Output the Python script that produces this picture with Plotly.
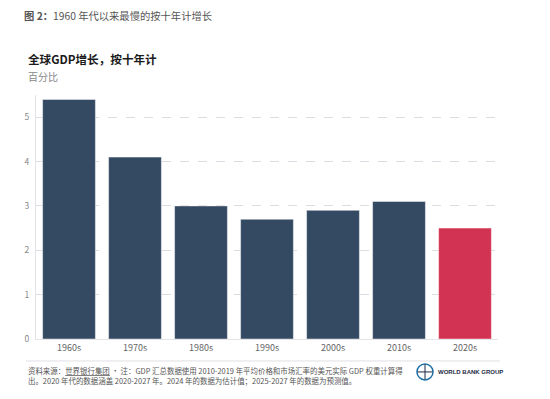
import plotly.graph_objects as go

decades = ["1960s", "1970s", "1980s", "1990s", "2000s", "2010s", "2020s"]
growth = [5.4, 4.1, 3.0, 2.7, 2.9, 3.1, 2.5]
bar_colors = ["#344A63"] * 6 + ["#D33352"]
y_ticks = [0, 1, 2, 3, 4, 5]

FONT = "Noto Sans CJK SC"

# the page body adds an 8px offset; figure coordinates below are page px minus 8
OFF = 8
W, H = 550 - 2 * OFF, 399 - 2 * OFF
ML, MR, MT, MB = 36 - OFF, W - (498 - OFF), 95 - OFF, H - (339.5 - OFF)
PW, PH = W - ML - MR, H - MT - MB

fig = go.Figure(go.Bar(
    x=decades, y=growth,
    marker=dict(color=bar_colors, line=dict(color="rgba(255,255,255,0.45)", width=1)),
    hoverinfo="x+y",
))

fig.update_layout(
    width=W, height=H, autosize=False,
    margin=dict(l=ML, r=MR, t=MT, b=MB, pad=0),
    paper_bgcolor="white", plot_bgcolor="white",
    bargap=0.2, showlegend=False,
    font=dict(family=FONT, color="#666"),
    xaxis=dict(
        showgrid=False, showline=True, linecolor="#e3e3e8", linewidth=1,
        ticks="", tickfont=dict(size=9, color="#666", family=FONT),
        fixedrange=True,
    ),
    yaxis=dict(
        range=[0, 5.5], tickvals=y_ticks, showgrid=True,
        gridcolor="#dcdce2", griddash="dash", gridwidth=1,
        zeroline=False, showline=True, linecolor="#e3e3e8", linewidth=1,
        ticks="", tickfont=dict(size=8.5, color="#888", family=FONT),
        ticklabelstandoff=4, fixedrange=True,
    ),
)


def px_x(v):
    return (v - OFF - ML) / PW


def px_y(v):
    return (H - MB - (v - OFF)) / PH


annotations = [
    dict(text="<b>图 2：</b>1960 年代以来最慢的按十年计增长",
         x=22, y=15, font=dict(size=10.3, color="#555", family=FONT)),
    dict(text="<b>全球GDP增长，按十年计</b>",
         x=26, y=59, font=dict(size=11.6, color="#1a1a1a", family=FONT)),
    dict(text="百分比", x=26, y=76, font=dict(size=10, color="#888", family=FONT)),
    dict(text="资料来源：<u>世界银行集团</u> • 注：GDP 汇总数据使用 2010-2019 年平均价格和市场汇率的美元实际 GDP 权重计算得"
              "<br>出。2020 年代的数据涵盖 2020-2027 年。2024 年的数据为估计值；2025-2027 年的数据为预测值。",
         x=26, y=376, font=dict(size=7.45, color="#555", family=FONT)),
    dict(text="<b>WORLD BANK GROUP</b>",
         x=436, y=373, font=dict(size=6, color="#1d2a44", family="Liberation Sans")),
]
for a in annotations:
    fig.add_annotation(
        text=a["text"], font=a["font"], showarrow=False,
        xref="paper", yref="paper",
        x=px_x(a["x"]), y=px_y(a["y"]),
        xanchor="left", yanchor="middle", align="left",
    )

# footer rule
fig.add_shape(type="line", xref="paper", yref="paper",
              x0=px_x(26), x1=px_x(500), y0=px_y(361.5), y1=px_y(361.5),
              line=dict(color="#e0e0e6", width=1))
# logo globe
fig.add_shape(type="circle", xref="paper", yref="paper",
              x0=px_x(417), x1=px_x(433), y0=px_y(380.5), y1=px_y(364.5),
              line=dict(color="#1d6fa5", width=1.5), fillcolor="rgba(0,0,0,0)")
fig.add_shape(type="line", xref="paper", yref="paper",
              x0=px_x(425), x1=px_x(425), y0=px_y(380), y1=px_y(365),
              line=dict(color="#1d2a44", width=1))
fig.add_shape(type="line", xref="paper", yref="paper",
              x0=px_x(417.5), x1=px_x(432.5), y0=px_y(372.5), y1=px_y(372.5),
              line=dict(color="#1d2a44", width=1))

fig.write_html("out.html")
